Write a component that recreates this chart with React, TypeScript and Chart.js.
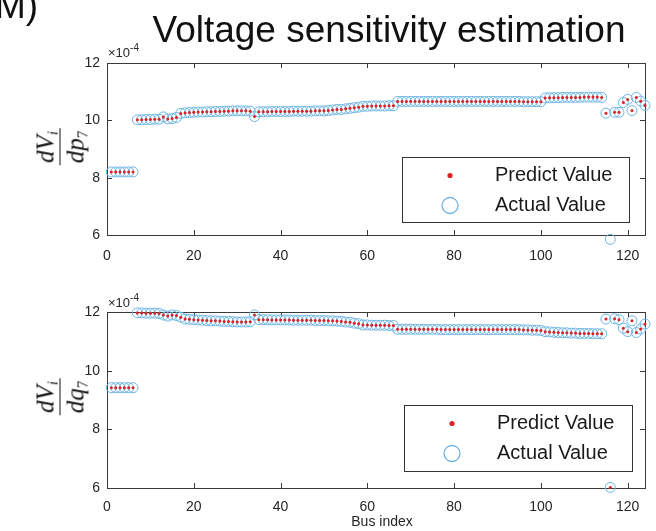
import React, { useEffect, useRef } from "react";
import { Chart, registerables } from "chart.js";

Chart.register(...registerables);

// ---------- data ----------
const busIndex = Array.from({ length: 124 }, (_, i) => i + 1);
const xTicks = [0, 20, 40, 60, 80, 100, 120];
const yTicks = [6, 8, 10, 12];
const seriesNames = ["Predict Value", "Actual Value"];

// dV_i/dp_7 (x 1e-4)
const actualP = [
  8.2, 8.2, 8.2, 8.2, 8.2, 8.2,
  10.02, 10.02, 10.03, 10.03, 10.04, 10.04, 10.12, 10.05, 10.06, 10.1,
  10.24, 10.26, 10.27, 10.28, 10.29, 10.29, 10.3, 10.3, 10.31, 10.31, 10.32, 10.32, 10.33, 10.33, 10.33, 10.33, 10.32,
  10.13,
  10.3, 10.3, 10.3, 10.31, 10.31, 10.31, 10.31, 10.31, 10.32, 10.32, 10.32, 10.32, 10.32, 10.33, 10.33, 10.33, 10.34,
  10.36, 10.38, 10.38, 10.4, 10.42, 10.44, 10.46,
  10.49, 10.49, 10.5, 10.5, 10.5, 10.5, 10.51, 10.51,
  10.66, 10.66, 10.66, 10.66, 10.66, 10.66, 10.66, 10.66, 10.66, 10.66,
  10.66, 10.66, 10.66, 10.66, 10.66, 10.66, 10.66, 10.66, 10.66, 10.66,
  10.66, 10.66, 10.66, 10.66, 10.66, 10.66, 10.66, 10.66, 10.66,
  10.65, 10.65, 10.65, 10.65, 10.65,
  10.78, 10.79, 10.79, 10.79, 10.8, 10.8, 10.8, 10.8, 10.8, 10.81, 10.81, 10.81, 10.81, 10.8,
  10.25, 5.85, 10.28, 10.28, 10.62, 10.73, 10.34, 10.8, 10.67, 10.52,
];
// predicted values coincide with the actual ones at the resolution of the picture
const predictP = actualP.slice();

// dV_i/dq_7 (x 1e-4)
const actualQ = [
  9.42, 9.42, 9.42, 9.42, 9.42, 9.42,
  11.97, 11.97, 11.96, 11.96, 11.96, 11.95, 11.9, 11.86, 11.9, 11.88,
  11.82, 11.76, 11.75, 11.74, 11.73, 11.72, 11.71, 11.7, 11.7, 11.69, 11.68, 11.68, 11.67, 11.66, 11.66, 11.66, 11.67,
  11.9,
  11.74, 11.74, 11.74, 11.73, 11.73, 11.73, 11.73, 11.73, 11.72, 11.72, 11.72, 11.72, 11.72, 11.71, 11.71,
  11.71, 11.7, 11.7, 11.69, 11.68, 11.66, 11.65,
  11.62, 11.6,
  11.56, 11.56, 11.55, 11.55, 11.55, 11.55, 11.54, 11.54,
  11.41, 11.41, 11.41, 11.41, 11.41, 11.41, 11.41, 11.41, 11.41, 11.41,
  11.4, 11.4, 11.4, 11.4, 11.4, 11.4, 11.4, 11.4, 11.4, 11.4,
  11.4, 11.4, 11.4, 11.4, 11.4, 11.4, 11.4, 11.4, 11.4,
  11.39, 11.39, 11.38, 11.38, 11.37,
  11.33, 11.32, 11.31, 11.3, 11.29, 11.29, 11.28, 11.28, 11.27, 11.27, 11.27, 11.26, 11.26, 11.26,
  11.76, 6.02, 11.77, 11.74, 11.45, 11.33, 11.7, 11.3, 11.42, 11.59,
];
const predictQ = actualQ.slice();

// ---------- styles ----------
const RED = "#dc2226";
const BLUE = "#6cb4e4";
const AXIS = "#3a3a3a";
const TEXT = "#262626";
const SANS = "'Liberation Sans', Arial, Helvetica, sans-serif";

const frameTicksPlugin = {
  id: "frameTicks",
  beforeDatasetsDraw(chart: any) {
    const { ctx, chartArea: a, scales } = chart;
    ctx.save();
    ctx.strokeStyle = AXIS;
    ctx.lineWidth = 1;
    ctx.strokeRect(a.left + 0.5, a.top + 0.5, a.right - a.left, a.bottom - a.top);
    const L = 5;
    ctx.beginPath();
    for (const v of xTicks) {
      const x = Math.round(scales.x.getPixelForValue(v)) + 0.5;
      ctx.moveTo(x, a.bottom);
      ctx.lineTo(x, a.bottom - L);
      ctx.moveTo(x, a.top);
      ctx.lineTo(x, a.top + L);
    }
    for (const v of yTicks) {
      const y = Math.round(scales.y.getPixelForValue(v)) + 0.5;
      ctx.moveTo(a.left, y);
      ctx.lineTo(a.left + L, y);
      ctx.moveTo(a.right, y);
      ctx.lineTo(a.right - L, y);
    }
    ctx.stroke();
    ctx.restore();
  },
};

const boxLegendPlugin = {
  id: "boxLegend",
  afterDatasetsDraw(chart: any, _args: any, opts: any) {
    if (!opts || opts.w == null) return;
    const { ctx } = chart;
    const { x, y, w, h } = opts;
    ctx.save();
    ctx.fillStyle = "#ffffff";
    ctx.fillRect(x, y, w, h);
    ctx.strokeStyle = "#333333";
    ctx.lineWidth = 1;
    ctx.strokeRect(x + 0.5, y + 0.5, w, h);
    const rows = [y + 18.5, y + 48.5];
    const mx = x + 48;
    const tx = x + 93;
    ctx.fillStyle = RED;
    ctx.beginPath();
    ctx.arc(mx, rows[0], 2.6, 0, Math.PI * 2);
    ctx.fill();
    ctx.strokeStyle = BLUE;
    ctx.lineWidth = 1.3;
    ctx.beginPath();
    ctx.arc(mx, rows[1], 8, 0, Math.PI * 2);
    ctx.stroke();
    ctx.fillStyle = "#1a1a1a";
    ctx.font = `20px ${SANS}`;
    ctx.textBaseline = "middle";
    ctx.textAlign = "left";
    const ds = chart.data.datasets;
    ctx.fillText(ds[0].label, tx, rows[0]);
    ctx.fillText(ds[1].label, tx, rows[1]);
    ctx.restore();
  },
};

type PanelProps = {
  top: number;
  height: number;
  padTop: number;
  xAxisH: number;
  xPad: number;
  actual: number[];
  predict: number[];
  legend: { x: number; y: number; w: number; h: number };
};

function Panel({ top, height, padTop, xAxisH, xPad, actual, predict, legend }: PanelProps) {
  const ref = useRef<HTMLCanvasElement>(null);
  useEffect(() => {
    if (!ref.current) return;
    const chart = new Chart(ref.current, {
      type: "scatter",
      data: {
        datasets: [
          {
            label: seriesNames[0],
            data: busIndex.map((b, i) => ({ x: b, y: predict[i] })),
            pointRadius: 1.5,
            pointBackgroundColor: RED,
            pointBorderWidth: 0,
            clip: false,
          } as any,
          {
            label: seriesNames[1],
            data: busIndex.map((b, i) => ({ x: b, y: actual[i] })),
            pointRadius: 5,
            pointBackgroundColor: "rgba(0,0,0,0)",
            pointBorderColor: BLUE,
            pointBorderWidth: 1,
            clip: false,
          } as any,
        ],
      },
      options: {
        responsive: false,
        animation: false,
        devicePixelRatio: 1,
        events: [],
        layout: { padding: { top: padTop, right: 11, left: 0, bottom: 0 } },
        plugins: {
          legend: { display: false },
          tooltip: { enabled: false },
          boxLegend: legend,
        } as any,
        scales: {
          x: {
            type: "linear",
            min: 0,
            max: 124,
            afterFit: (s: any) => {
              s.height = xAxisH;
            },
            afterBuildTicks: (s: any) => {
              s.ticks = xTicks.map((v) => ({ value: v }));
            },
            grid: { display: false, drawTicks: false },
            border: { display: false },
            ticks: { padding: xPad, color: TEXT, font: { family: SANS, size: 14 }, maxRotation: 0 },
          },
          y: {
            type: "linear",
            min: 6,
            max: 12,
            afterFit: (s: any) => {
              s.width = 107;
            },
            afterBuildTicks: (s: any) => {
              s.ticks = yTicks.map((v) => ({ value: v }));
            },
            grid: { display: false, drawTicks: false },
            border: { display: false },
            ticks: { padding: 7, color: TEXT, font: { family: SANS, size: 14 } },
          },
        },
      } as any,
      plugins: [frameTicksPlugin, boxLegendPlugin],
    });
    return () => chart.destroy();
  }, []);
  return (
    <canvas
      ref={ref}
      width={656}
      height={height}
      style={{ position: "absolute", left: 0, top, width: 656, height }}
    />
  );
}

function FracLabel({ cx, cy, den }: { cx: number; cy: number; den: string }) {
  return (
    <div
      style={{
        position: "absolute",
        left: cx,
        top: cy,
        transform: "translate(-50%,-50%) rotate(-90deg)",
        fontFamily: "'Liberation Serif', 'DejaVu Serif', serif",
        fontStyle: "italic",
        fontSize: 25,
        lineHeight: 1,
        color: "#111",
        whiteSpace: "nowrap",
      }}
    >
      <div style={{ display: "inline-flex", flexDirection: "column", alignItems: "center" }}>
        <span style={{ padding: "0 2px 2px" }}>
          dV<span style={{ fontSize: 15, position: "relative", top: 4 }}>i</span>
        </span>
        <span style={{ borderTop: "1.3px solid #111", width: "100%", height: 0 }} />
        <span style={{ padding: "2px 2px 0" }}>
          d{den}
          <span style={{ fontSize: 15, fontStyle: "normal", position: "relative", top: 4 }}>7</span>
        </span>
      </div>
    </div>
  );
}

function Exponent({ left, top }: { left: number; top: number }) {
  return (
    <div
      style={{
        position: "absolute",
        left,
        top,
        fontFamily: SANS,
        fontSize: 13,
        lineHeight: "13px",
        color: TEXT,
        whiteSpace: "nowrap",
      }}
    >
      ×10<span style={{ fontSize: 10, position: "relative", top: -6 }}>-4</span>
    </div>
  );
}

export default function App() {
  useEffect(() => {
    document.body.style.margin = "0";
  }, []);
  return (
    <div
      style={{
        position: "relative",
        width: 656,
        height: 531,
        overflow: "hidden",
        background: "#ffffff",
        fontFamily: SANS,
      }}
    >
      <Panel
        top={0}
        height={270}
        padTop={63}
        xAxisH={35}
        xPad={13}
        actual={actualP}
        predict={predictP}
        legend={{ x: 402, y: 157, w: 227, h: 65 }}
      />
      <Panel
        top={270}
        height={261}
        padTop={42}
        xAxisH={43}
        xPad={11}
        actual={actualQ}
        predict={predictQ}
        legend={{ x: 404, y: 135, w: 228, h: 66 }}
      />
      <div
        style={{
          position: "absolute",
          left: -5,
          top: -13,
          fontSize: 37,
          lineHeight: "37px",
          color: "#111",
          whiteSpace: "nowrap",
        }}
      >
        M)
      </div>
      <div
        style={{
          position: "absolute",
          left: 389,
          top: 11,
          transform: "translateX(-50%)",
          fontSize: 37,
          lineHeight: "37px",
          color: "#111",
          whiteSpace: "nowrap",
        }}
      >
        Voltage sensitivity estimation
      </div>
      <Exponent left={108} top={46} />
      <Exponent left={108} top={296} />
      <FracLabel cx={60} cy={147} den="p" />
      <FracLabel cx={60} cy={397} den="q" />
      <div
        style={{
          position: "absolute",
          left: 382,
          top: 514,
          transform: "translateX(-50%)",
          fontSize: 14,
          lineHeight: "14px",
          color: TEXT,
          whiteSpace: "nowrap",
        }}
      >
        Bus index
      </div>
    </div>
  );
}
